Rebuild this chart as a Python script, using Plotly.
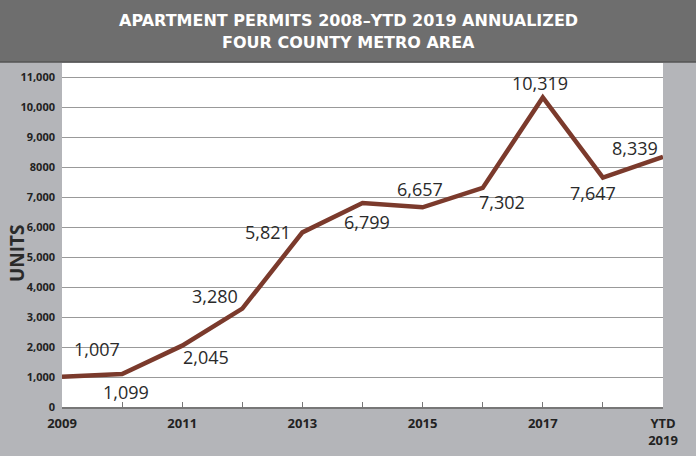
import plotly.graph_objects as go

years = [2009, 2010, 2011, 2012, 2013, 2014, 2015, 2016, 2017, 2018, 2019]
permits = [1007, 1099, 2045, 3280, 5821, 6799, 6657, 7302, 10319, 7647, 8339]
x_tick_text = ["2009", "", "2011", "", "2013", "", "2015", "", "2017", "", "YTD<br>2019"]
y_tick_vals = [0, 1000, 2000, 3000, 4000, 5000, 6000, 7000, 8000, 9000, 10000, 11000]
y_tick_text = ["0", "1,000", "2,000", "3,000", "4,000", "5,000", "6,000", "7,000",
               "8000", "9,000", "10,000", "11,000"]
title_lines = ["APARTMENT PERMITS 2008\u2013YTD 2019 ANNUALIZED", "FOUR COUNTY METRO AREA"]
y_title = "UNITS"

# label offsets in pixels (style only)
label_shifts = [(35, 28), (4, -18), (24, -11), (-27, 13), (-34, 0), (4, -19),
                (-3, 18), (19, -14), (-3, 14), (-10, -15), (-28, 9)]

LINE = "#7b3a2c"
BG = "#b4b5b9"
HEADER = "#6e6e6e"

fig = go.Figure()
fig.add_trace(go.Scatter(x=years, y=permits, mode="lines",
                         line=dict(color=LINE, width=4.5), hoverinfo="skip"))

annotations = []
for yr, v, (dx, dy) in zip(years, permits, label_shifts):
    annotations.append(dict(x=yr, y=v, xref="x", yref="y", text=f"{v:,}",
                            showarrow=False, xshift=dx, yshift=dy,
                            xanchor="center", yanchor="middle",
                            font=dict(family="Open Sans", size=18, color="#2a2a2a")))

plot_h = 344.0
annotations.append(dict(x=(348 - 62) / 601.0, y=(407 - 20) / plot_h, xref="paper", yref="paper",
                        text=title_lines[0], showarrow=False, xanchor="center", yanchor="middle",
                        font=dict(family="DejaVu Sans", size=16, color="white", weight=700)))
annotations.append(dict(x=(348 - 62) / 601.0, y=(407 - 43) / plot_h, xref="paper", yref="paper",
                        text=title_lines[1], showarrow=False, xanchor="center", yanchor="middle",
                        font=dict(family="DejaVu Sans", size=16, color="white", weight=700)))
annotations.append(dict(x=(17 - 62) / 601.0, y=(407 - 253) / plot_h, xref="paper", yref="paper",
                        text=y_title, showarrow=False, textangle=-90,
                        xanchor="center", yanchor="middle",
                        font=dict(family="Open Sans", size=19, color="#2a2a2a", weight=700)))

fig.update_layout(
    width=696, height=456,
    margin=dict(l=62, r=33, t=63, b=49, autoexpand=False),
    paper_bgcolor=BG, plot_bgcolor="white",
    showlegend=False,
    annotations=annotations,
    shapes=[dict(type="rect", xref="paper", yref="paper",
                 x0=-0.2, x1=1.2, y0=1.0 + 1.0 / plot_h, y1=1.0 + 64.0 / plot_h,
                 fillcolor=HEADER, line=dict(width=0), layer="below"),
            dict(type="line", xref="paper", yref="paper",
                 x0=-0.2, x1=1.2, y0=1.0 + 1.0 / plot_h, y1=1.0 + 1.0 / plot_h,
                 line=dict(color="#555555", width=1.5))],
    xaxis=dict(range=[2009, 2019], tickvals=years, ticktext=x_tick_text,
               ticks="inside", ticklen=5, tickcolor="#777777", tickwidth=1,
               showline=True, linecolor="#777777", linewidth=1.5,
               showgrid=False, zeroline=False, ticklabelstandoff=4, automargin=False,
               tickfont=dict(family="Open Sans", size=13, color="#222222", weight=700)),
    yaxis=dict(range=[0, 11467], tickvals=y_tick_vals, ticktext=y_tick_text,
               showgrid=True, gridcolor="#999999", gridwidth=1.2, automargin=False,
               zeroline=False, showline=False, ticks="", ticklabelstandoff=6,
               tickfont=dict(family="Open Sans", size=11, color="#222222", weight=700)),
)

fig.write_html("out.html", config={"displayModeBar": False},
               post_script="document.body.style.margin='0';document.body.style.overflow='hidden';")
